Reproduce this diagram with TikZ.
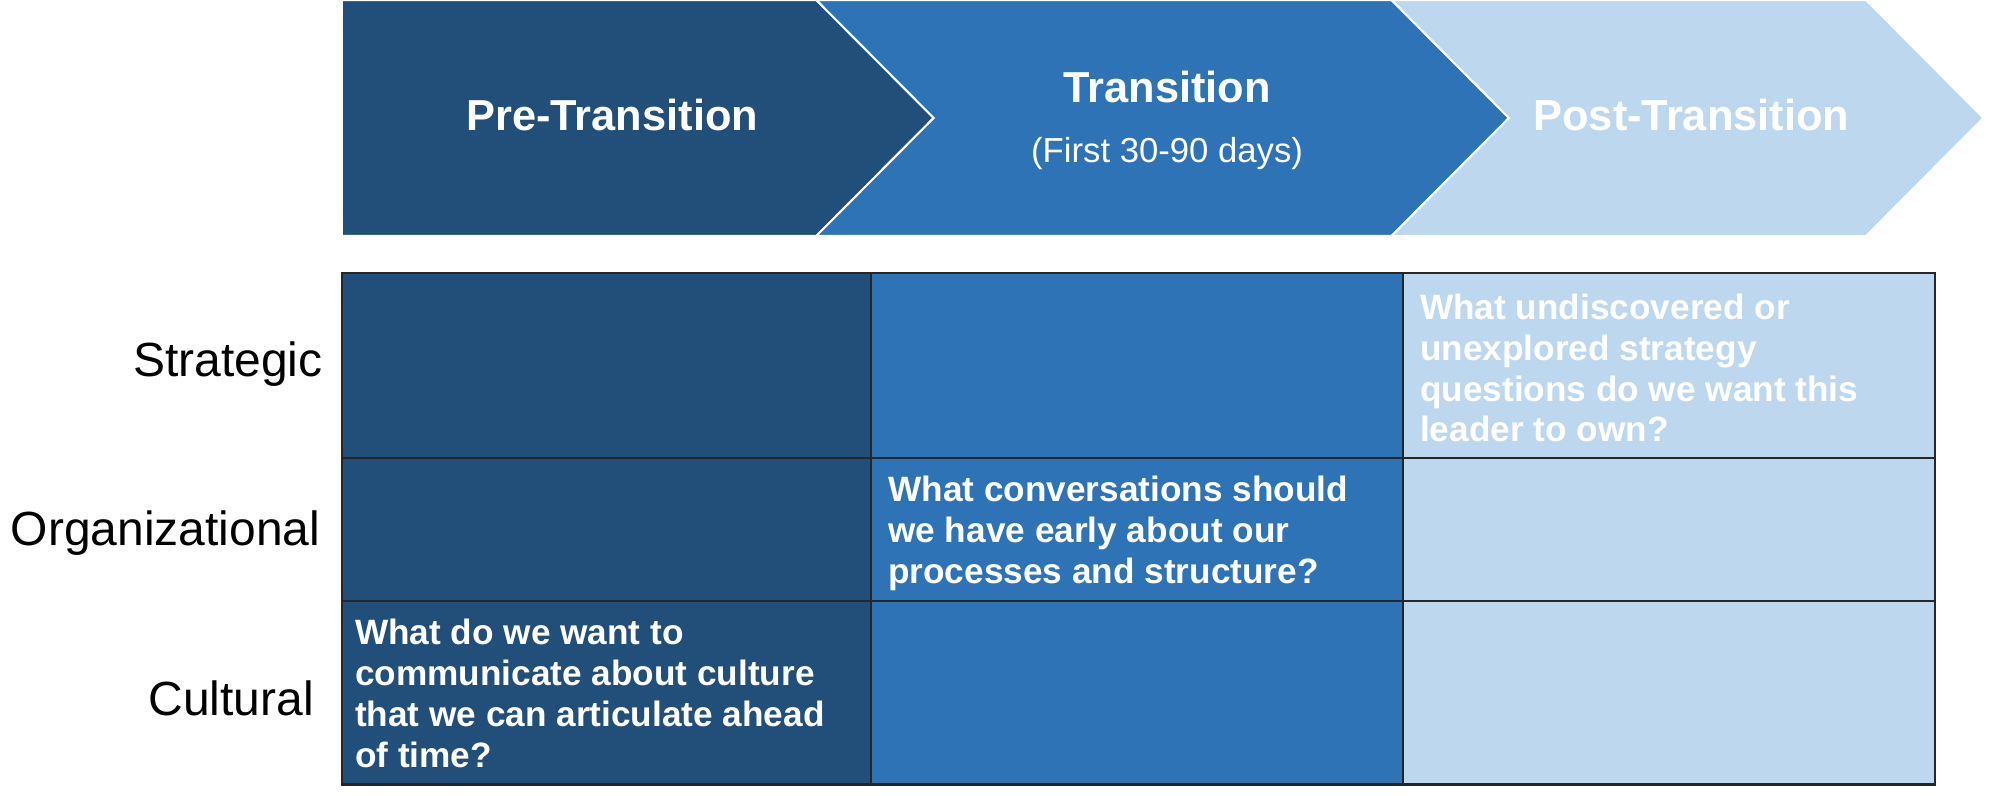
\documentclass[tikz,border=0pt]{standalone}
\usepackage{fontspec}
\setmainfont{Liberation Sans}
\usepackage{tikz}

\definecolor{preblue}{RGB}{33,79,121}
\definecolor{midblue}{RGB}{46,115,181}
\definecolor{paleblue}{RGB}{189,215,238}

\begin{document}
\begin{tikzpicture}[x=0.5pt, y=-0.5pt,
  phase/.style={text=white, font=\bfseries\fontsize{17}{20}\selectfont},
  rowlabel/.style={anchor=base east, font=\fontsize{18.8}{22}\selectfont},
  question/.style={anchor=north west, align=left, inner sep=0pt, text=white, font=\bfseries\fontsize{13.8}{16}\selectfont}]

\useasboundingbox (0,0) rectangle (1568,624);

% Les chevrons des phases
\fill[preblue, draw=white, line width=0.8pt] (268,0) -- (640,0) -- (732,92.5) -- (640,185) -- (268,185) -- cycle;
\foreach \a/\b/\c in {640/1091/midblue, 1091/1463/paleblue}
\fill[\c, draw=white, line width=0.8pt] (\a,0) -- (\b,0) -- (\b+92,92.5) -- (\b,185) -- (\a,185) -- (\a+92,92.5) -- cycle;

% Les titres des phases
\node[phase] (pre) at (480,90) {Pre-Transition};
\node[phase] (trans) at (915,68) {Transition};
\node[text=white, font=\fontsize{13.6}{16}\selectfont] (days) at (915,120) {(First 30-90 days)};
\node[phase] (post) at (1326,90) {Post-Transition};

% Les cases du tableau
\foreach \xa/\xb/\c in {268/683/preblue, 683/1100/midblue, 1100/1517/paleblue}
\foreach \ya/\yb in {214/359, 359/471, 471/615}
\filldraw[fill=\c, draw=black!85, line width=0.9pt] (\xa,\ya) rectangle (\xb,\yb);

% Les lignes (rows)
\node[rowlabel] (strat) at (260,295) {Strategic};
\node[rowlabel] (org) at (258,428) {Organizational};
\node[rowlabel] (cult) at (253,561) {Cultural};

% Les questions
\node[question] (qpost) at (1113,230) {What undiscovered or\\unexplored strategy\\questions do we want this\\leader to own?};
\node[question] (qtrans) at (696,373) {What conversations should\\we have early about our\\processes and structure?};
\node[question] (qpre) at (278,485) {What do we want to\\communicate about culture\\that we can articulate ahead\\of time?};

\end{tikzpicture}
\end{document}
